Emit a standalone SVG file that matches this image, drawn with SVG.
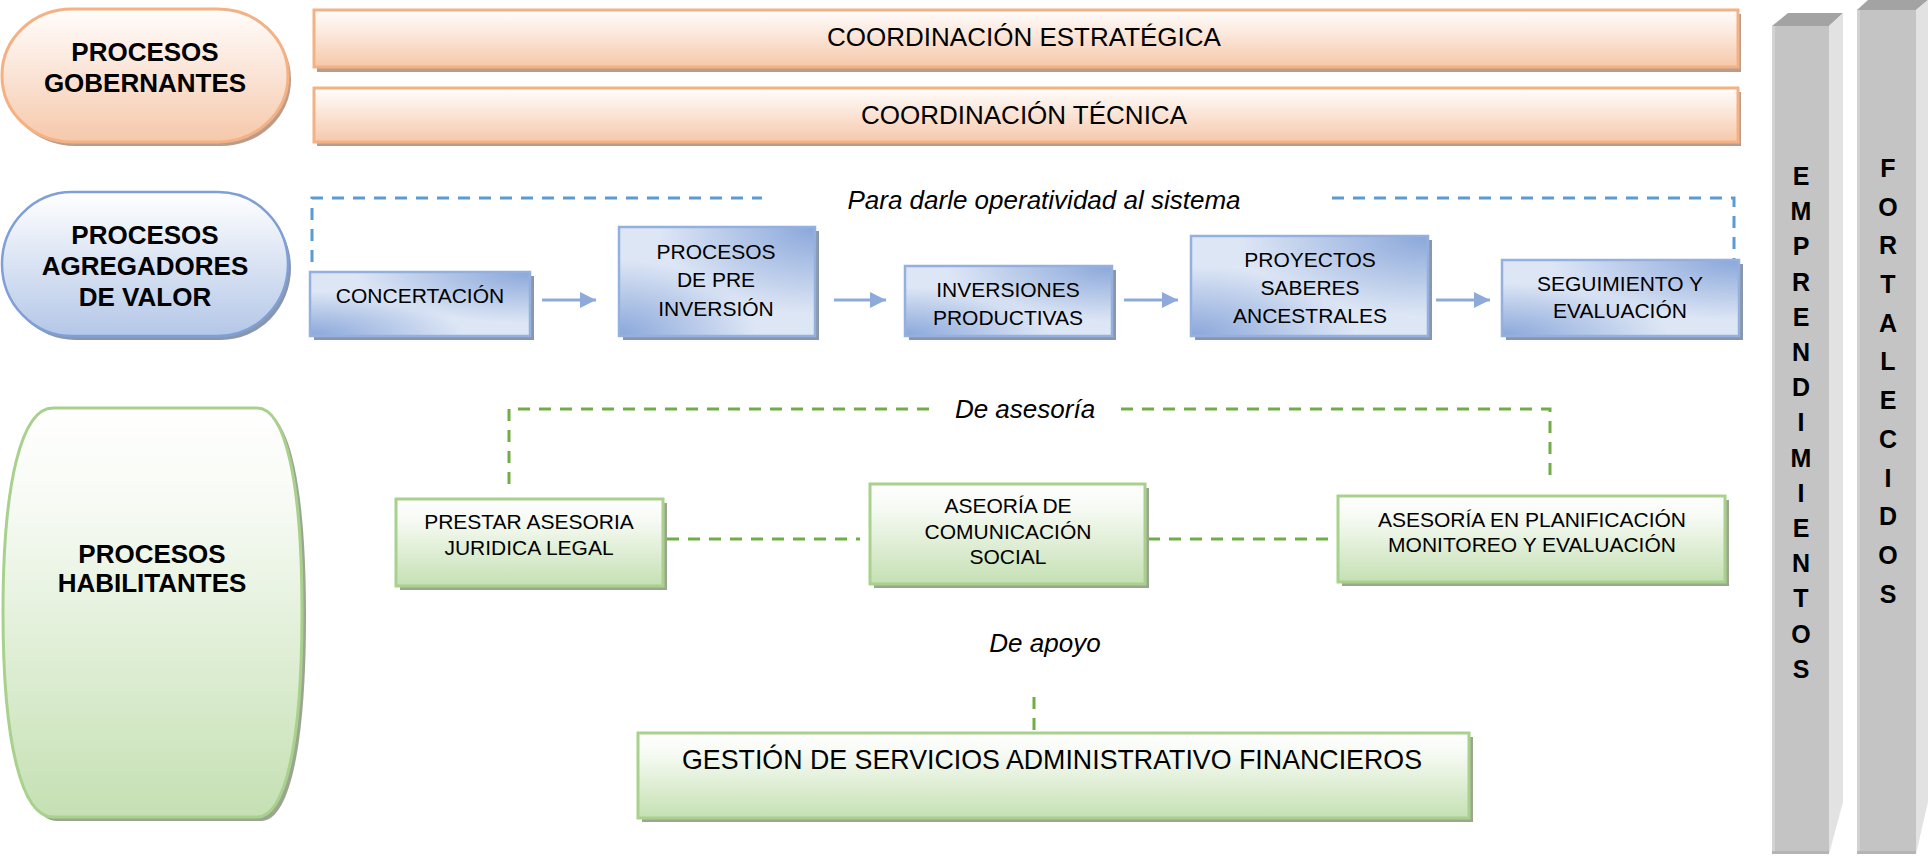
<svg xmlns="http://www.w3.org/2000/svg" width="1928" height="858" viewBox="0 0 1928 858">
<defs>
<linearGradient id="gOr" x1="0" y1="0" x2="0" y2="1"><stop offset="0" stop-color="#fffdfc"/><stop offset="0.45" stop-color="#fbe6d9"/><stop offset="1" stop-color="#f6c8aa"/></linearGradient>
<radialGradient id="rTR" cx="1" cy="0" r="0.8" fx="1" fy="0"><stop offset="0" stop-color="#8aa7da" stop-opacity="1"/><stop offset="1" stop-color="#8aa7da" stop-opacity="0"/></radialGradient>
<radialGradient id="rBL" cx="0" cy="1" r="0.7" fx="0" fy="1"><stop offset="0" stop-color="#8aa7da" stop-opacity="1"/><stop offset="1" stop-color="#8aa7da" stop-opacity="0"/></radialGradient>
<linearGradient id="gBp" x1="0" y1="0" x2="0" y2="1"><stop offset="0" stop-color="#ffffff"/><stop offset="1" stop-color="#b4c7e7"/></linearGradient>
<linearGradient id="gGr" x1="0" y1="0" x2="0" y2="1"><stop offset="0" stop-color="#ffffff"/><stop offset="0.25" stop-color="#f6faf3"/><stop offset="1" stop-color="#c5e0b3"/></linearGradient>
<marker id="arr" markerUnits="userSpaceOnUse" markerWidth="18" markerHeight="18" refX="16" refY="8" orient="auto"><path d="M0,0 L16,8 L0,16 Z" fill="#8eaadb"/></marker>
</defs>
<style>
text{font-family:"Liberation Sans",Arial,sans-serif;fill:#000}
.hd{font-size:26px;font-weight:bold;text-anchor:middle}
.bar{font-size:26px;text-anchor:middle}
.bx{font-size:21px;text-anchor:middle}
.it{font-size:26px;font-style:italic;text-anchor:middle}
.vl{font-size:25px;font-weight:bold;text-anchor:middle}
.or{fill:url(#gOr);stroke:#f4b183;stroke-width:3}
.blb{fill:#dde6f5}
.tr{fill:url(#rTR)}
.bl2{fill:url(#rBL)}
.ble{fill:none;stroke:#93b0df;stroke-width:2.5}
.bp{fill:url(#gBp);stroke:#7f9fd6;stroke-width:2.5}
.gr{fill:url(#gGr);stroke:#a9d18e;stroke-width:3}
.sOr{fill:#bb9c8a}
.sBl{fill:#8a97ab}
.sGr{fill:#9aa78e}
.dB{fill:none;stroke:#5b9bd5;stroke-width:3;stroke-dasharray:12 9}
.dG{fill:none;stroke:#70ad47;stroke-width:3;stroke-dasharray:12 9}
.ar{stroke:#8eaadb;stroke-width:3;fill:none}
</style>

<g id="connectors">
<path class="dB" d="M312,262 V198 H762"/>
<path class="dB" d="M1332,198 H1734 V260"/>
<line class="ar" x1="542" y1="300" x2="596" y2="300" marker-end="url(#arr)"/>
<line class="ar" x1="834" y1="300" x2="886" y2="300" marker-end="url(#arr)"/>
<line class="ar" x1="1124" y1="300" x2="1178" y2="300" marker-end="url(#arr)"/>
<line class="ar" x1="1436" y1="300" x2="1490" y2="300" marker-end="url(#arr)"/>
<path class="dG" d="M509,484 V409 H934"/>
<path class="dG" d="M1121,409 H1550 V484"/>
<line class="dG" x1="667" y1="539" x2="860" y2="539"/>
<line class="dG" x1="1148" y1="539" x2="1338" y2="539"/>
<line class="dG" x1="1034" y1="697" x2="1034" y2="733"/>
</g>

<g id="labels">
<text class="it" x="1044" y="209">Para darle operatividad al sistema</text>
<text class="it" x="1025" y="418">De asesoría</text>
<text class="it" x="1045" y="652">De apoyo</text>
</g>

<g id="procesos-gobernantes">
<rect class="sOr" x="5" y="13" width="286" height="133" rx="70" ry="66"/>
<rect class="or" x="2" y="9" width="286" height="133" rx="70" ry="66"/>
<text class="hd" x="145" y="61">PROCESOS</text>
<text class="hd" x="145" y="92">GOBERNANTES</text>
</g>

<g id="coord-estrategica">
<rect class="sOr" x="317" y="14" width="1424" height="58"/>
<rect class="or" x="314" y="10" width="1424" height="57"/>
<text class="bar" x="1024" y="46">COORDINACIÓN ESTRATÉGICA</text>
</g>

<g id="coord-tecnica">
<rect class="sOr" x="317" y="92" width="1424" height="54"/>
<rect class="or" x="314" y="88" width="1424" height="54"/>
<text class="bar" x="1024" y="124">COORDINACIÓN TÉCNICA</text>
</g>

<g id="procesos-agregadores">
<rect class="sBl" x="5" y="196" width="286" height="144" rx="70" ry="72"/>
<rect class="bp" x="2" y="192" width="286" height="144" rx="70" ry="72"/>
<text class="hd" x="145" y="244">PROCESOS</text>
<text class="hd" x="145" y="275">AGREGADORES</text>
<text class="hd" x="145" y="306">DE VALOR</text>
</g>

<g id="concertacion">
<rect class="sBl" x="314" y="276" width="220" height="64"/>
<rect class="blb" x="310" y="272" width="220" height="64"/>
<rect class="tr" x="310" y="272" width="220" height="64"/>
<rect class="bl2" x="310" y="272" width="220" height="64"/>
<rect class="ble" x="310" y="272" width="220" height="64"/>
<text class="bx" x="420" y="303">CONCERTACIÓN</text>
</g>

<g id="pre-inversion">
<rect class="sBl" x="623" y="231" width="196" height="109"/>
<rect class="blb" x="619" y="227" width="196" height="109"/>
<rect class="tr" x="619" y="227" width="196" height="109"/>
<rect class="bl2" x="619" y="227" width="196" height="109"/>
<rect class="ble" x="619" y="227" width="196" height="109"/>
<text class="bx" x="716" y="259">PROCESOS</text>
<text class="bx" x="716" y="287">DE PRE</text>
<text class="bx" x="716" y="316">INVERSIÓN</text>
</g>

<g id="inversiones">
<rect class="sBl" x="909" y="270" width="207" height="70"/>
<rect class="blb" x="905" y="266" width="207" height="70"/>
<rect class="tr" x="905" y="266" width="207" height="70"/>
<rect class="bl2" x="905" y="266" width="207" height="70"/>
<rect class="ble" x="905" y="266" width="207" height="70"/>
<text class="bx" x="1008" y="297">INVERSIONES</text>
<text class="bx" x="1008" y="325">PRODUCTIVAS</text>
</g>

<g id="proyectos">
<rect class="sBl" x="1195" y="240" width="237" height="100"/>
<rect class="blb" x="1191" y="236" width="237" height="100"/>
<rect class="tr" x="1191" y="236" width="237" height="100"/>
<rect class="bl2" x="1191" y="236" width="237" height="100"/>
<rect class="ble" x="1191" y="236" width="237" height="100"/>
<text class="bx" x="1310" y="267">PROYECTOS</text>
<text class="bx" x="1310" y="295">SABERES</text>
<text class="bx" x="1310" y="323">ANCESTRALES</text>
</g>

<g id="seguimiento">
<rect class="sBl" x="1506" y="264" width="237" height="76"/>
<rect class="blb" x="1502" y="260" width="237" height="76"/>
<rect class="tr" x="1502" y="260" width="237" height="76"/>
<rect class="bl2" x="1502" y="260" width="237" height="76"/>
<rect class="ble" x="1502" y="260" width="237" height="76"/>
<text class="bx" x="1620" y="291">SEGUIMIENTO Y</text>
<text class="bx" x="1620" y="318">EVALUACIÓN</text>
</g>

<g id="procesos-habilitantes">
<path class="sGr" d="M57,412 H261 C289,412 306,484 306,616 C306,749 289,821 261,821 H57 C26,821 7,749 7,616 C7,484 26,412 57,412 Z"/>
<path class="gr" d="M53,408 H257 C285,408 302,480 302,612 C302,745 285,817 257,817 H53 C22,817 3,745 3,612 C3,480 22,408 53,408 Z"/>
<text class="hd" x="152" y="563">PROCESOS</text>
<text class="hd" x="152" y="592">HABILITANTES</text>
</g>

<g id="asesoria-juridica">
<rect class="sGr" x="400" y="503" width="267" height="87"/>
<rect class="gr" x="396" y="499" width="267" height="87"/>
<text class="bx" x="529" y="529">PRESTAR ASESORIA</text>
<text class="bx" x="529" y="555">JURIDICA LEGAL</text>
</g>

<g id="comunicacion-social">
<rect class="sGr" x="874" y="488" width="275" height="100"/>
<rect class="gr" x="870" y="484" width="275" height="100"/>
<text class="bx" x="1008" y="513">ASEORÍA DE</text>
<text class="bx" x="1008" y="539">COMUNICACIÓN</text>
<text class="bx" x="1008" y="564">SOCIAL</text>
</g>

<g id="planificacion">
<rect class="sGr" x="1342" y="500" width="387" height="86"/>
<rect class="gr" x="1338" y="496" width="387" height="86"/>
<text class="bx" x="1532" y="527">ASESORÍA EN PLANIFICACIÓN</text>
<text class="bx" x="1532" y="552">MONITOREO Y EVALUACIÓN</text>
</g>

<g id="gestion-administrativa">
<rect class="sGr" x="642" y="737" width="831" height="85"/>
<rect class="gr" x="638" y="733" width="831" height="85"/>
<text x="1052" y="769" font-size="28" text-anchor="middle" textLength="740" lengthAdjust="spacingAndGlyphs">GESTIÓN DE SERVICIOS ADMINISTRATIVO FINANCIEROS</text>
</g>

<g id="emprendimientos">
<polygon points="1772,26 1788,13 1843,13 1829,26" fill="#a3a3a3"/>
<polygon points="1829,26 1843,13 1843,802 1829,854" fill="#e2e2e2"/>
<rect x="1772" y="26" width="57" height="828" fill="#c4c4c4"/>
<rect x="1772" y="26" width="3" height="828" fill="#d2d2d2"/>
<rect x="1772" y="851" width="57" height="3" fill="#b4b4b4"/>
<text class="vl" x="1801" y="185">E</text>
<text class="vl" x="1801" y="220">M</text>
<text class="vl" x="1801" y="255">P</text>
<text class="vl" x="1801" y="291">R</text>
<text class="vl" x="1801" y="326">E</text>
<text class="vl" x="1801" y="361">N</text>
<text class="vl" x="1801" y="396">D</text>
<text class="vl" x="1801" y="431">I</text>
<text class="vl" x="1801" y="467">M</text>
<text class="vl" x="1801" y="502">I</text>
<text class="vl" x="1801" y="537">E</text>
<text class="vl" x="1801" y="572">N</text>
<text class="vl" x="1801" y="607">T</text>
<text class="vl" x="1801" y="643">O</text>
<text class="vl" x="1801" y="678">S</text>
</g>

<g id="fortalecidos">
<polygon points="1857,10 1868,0 1928,0 1916,10" fill="#a3a3a3"/>
<polygon points="1916,10 1928,0 1928,802 1916,854" fill="#e2e2e2"/>
<rect x="1857" y="10" width="59" height="844" fill="#c4c4c4"/>
<rect x="1857" y="10" width="3" height="844" fill="#d2d2d2"/>
<rect x="1857" y="851" width="59" height="3" fill="#b4b4b4"/>
<text class="vl" x="1888" y="177">F</text>
<text class="vl" x="1888" y="216">O</text>
<text class="vl" x="1888" y="254">R</text>
<text class="vl" x="1888" y="293">T</text>
<text class="vl" x="1888" y="332">A</text>
<text class="vl" x="1888" y="370">L</text>
<text class="vl" x="1888" y="409">E</text>
<text class="vl" x="1888" y="448">C</text>
<text class="vl" x="1888" y="487">I</text>
<text class="vl" x="1888" y="525">D</text>
<text class="vl" x="1888" y="564">O</text>
<text class="vl" x="1888" y="603">S</text>
</g>
</svg>
